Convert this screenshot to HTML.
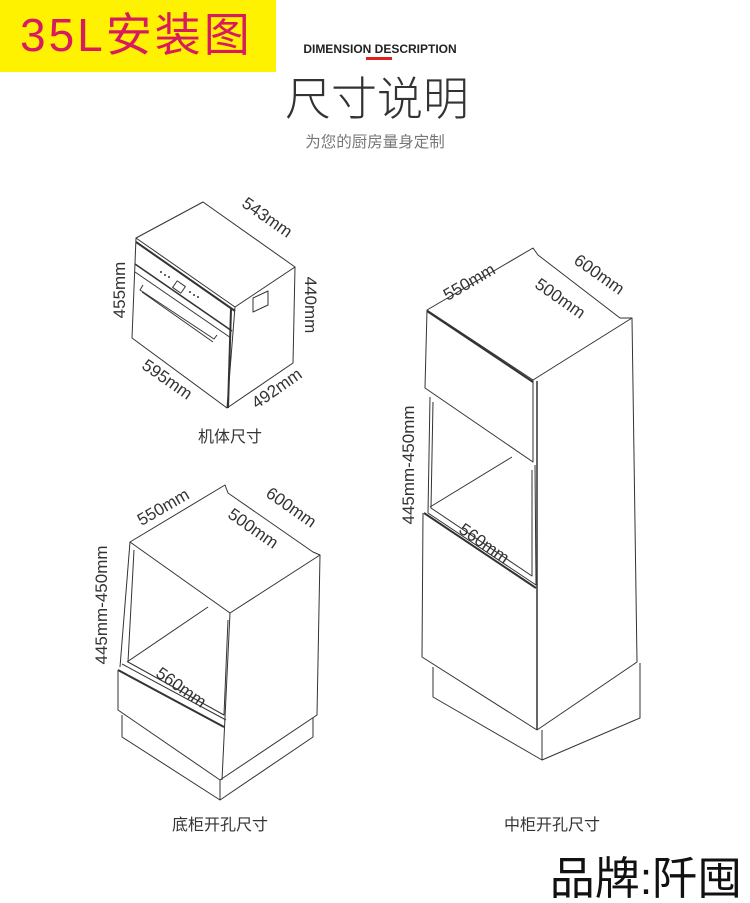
<!DOCTYPE html>
<html><head><meta charset="utf-8"><style>
html,body{margin:0;padding:0;background:#fff;}
body{width:750px;height:903px;position:relative;overflow:hidden;font-family:"Liberation Sans","Noto Sans CJK SC",sans-serif;}
.yb{position:absolute;left:0;top:0;width:276px;height:72px;background:#fff200;}
.yt{position:absolute;left:20px;top:8px;font-size:46px;color:#d81b60;font-family:"Liberation Sans","Noto Sans CJK SC",sans-serif;letter-spacing:3px;line-height:54px;white-space:nowrap;}
</style></head><body>
<div class="yb"></div>
<div class="yt">35L安装图</div>
<svg width="750" height="903" style="position:absolute;left:0;top:0" xmlns="http://www.w3.org/2000/svg">
<g font-family="Liberation Sans, Noto Sans CJK SC, sans-serif">
<text x="380" y="53" text-anchor="middle" font-size="12" font-weight="bold" fill="#222">DIMENSION DESCRIPTION</text>
<rect x="366" y="57" width="26" height="3" fill="#e02020"/>
<text x="377" y="115" text-anchor="middle" font-size="46" fill="#333" font-weight="300">尺寸说明</text>
<text x="375" y="147" text-anchor="middle" font-size="15.5" fill="#777">为您的厨房量身定制</text>
<text x="646" y="894" text-anchor="middle" font-size="45" fill="#111">品牌:阡囤</text>
</g>
<g fill="none" stroke="#333" stroke-width="1" stroke-linejoin="round">
<!-- oven -->
<polygon points="136,238 203,202 295,267 235,307"/>
<polyline points="136,238 132,338 227,408 235,307"/>
<polyline points="227,408 293,363 295,267"/>
<line x1="136" y1="242" x2="235" y2="311" stroke-width="2"/>
<line x1="135" y1="264" x2="232" y2="331" stroke-width="1.6"/>
<line x1="135" y1="272" x2="231" y2="338"/>
<polyline points="143,285 140,290 214,339 217,335"/>
<line x1="142" y1="292" x2="213" y2="342"/>
<rect x="174" y="283" width="10" height="8" transform="rotate(35 179 287)"/>
<line x1="231" y1="309" x2="228" y2="408" stroke-width="2"/>
<polygon points="253,298 268,291 268,305 253,312"/>
<g fill="#333" stroke="none"><circle cx="161" cy="272" r="1"/><circle cx="165" cy="275" r="1"/><circle cx="169" cy="277" r="1"/><circle cx="190" cy="292" r="1"/><circle cx="194" cy="295" r="1"/><circle cx="198" cy="297" r="1"/></g>
<!-- bottom cabinet -->
<polygon points="130,542 225,485 228,493 313,552 320,555 230,613"/>
<polyline points="130,542 120,667"/>
<line x1="230" y1="613" x2="222" y2="780"/>
<polyline points="320,555 317,715 220,780 118,710 118,670"/>
<polyline points="134,550 128,662 224,715 228,620"/>
<line x1="208" y1="607" x2="127" y2="662"/>
<line x1="118" y1="670" x2="224" y2="727" stroke-width="2"/>
<line x1="122" y1="664" x2="226" y2="720"/>
<polyline points="122,715 122,737 220,800 313,737 313,718"/>
<line x1="220" y1="780" x2="220" y2="800"/>
<!-- tall cabinet -->
<polygon points="427,310 533,248 538,255 620,318 632,318 533,380"/>
<line x1="427" y1="311" x2="533" y2="382" stroke-width="2"/>
<polyline points="427,310 425,388 533,462 533,380"/>
<line x1="537" y1="381" x2="537" y2="730" stroke-width="1.5"/>
<polyline points="430,397 428,513 536,585 535,465"/>
<polyline points="433,402 431,508 532,576 532,470"/>
<line x1="512" y1="457" x2="430" y2="507"/>
<line x1="424" y1="513" x2="536" y2="588" stroke-width="2"/>
<polyline points="423,513 422,657 537,730"/>
<polyline points="632,318 637,662 537,730"/>
<polyline points="433,667 433,697 542,760 640,718 640,663"/>
<line x1="542" y1="730" x2="542" y2="760"/>
</g>
<g font-family="Liberation Sans, sans-serif" font-size="17" fill="#333">
<text transform="translate(264,222) rotate(35)" text-anchor="middle">543mm</text>
<text transform="translate(125,290) rotate(-90)" text-anchor="middle">455mm</text>
<text transform="translate(305,305) rotate(90)" text-anchor="middle">440mm</text>
<text transform="translate(164,384) rotate(35)" text-anchor="middle">595mm</text>
<text transform="translate(280,393) rotate(-35)" text-anchor="middle">492mm</text>
<text x="230" y="442" text-anchor="middle" font-size="16" font-family="Liberation Sans, Noto Sans CJK SC, sans-serif">机体尺寸</text>
<text transform="translate(166,512) rotate(-30)" text-anchor="middle">550mm</text>
<text transform="translate(288,512) rotate(35)" text-anchor="middle">600mm</text>
<text transform="translate(250,533) rotate(35)" text-anchor="middle">500mm</text>
<text transform="translate(107,605) rotate(-90)" text-anchor="middle">445mm-450mm</text>
<text transform="translate(178,692) rotate(35)" text-anchor="middle">560mm</text>
<text x="220" y="830" text-anchor="middle" font-size="16" font-family="Liberation Sans, Noto Sans CJK SC, sans-serif">底柜开孔尺寸</text>
<text transform="translate(472,287) rotate(-30)" text-anchor="middle">550mm</text>
<text transform="translate(596,279) rotate(35)" text-anchor="middle">600mm</text>
<text transform="translate(557,303) rotate(35)" text-anchor="middle">500mm</text>
<text transform="translate(414,465) rotate(-90)" text-anchor="middle">445mm-450mm</text>
<text transform="translate(481,548) rotate(35)" text-anchor="middle">560mm</text>
<text x="552" y="830" text-anchor="middle" font-size="16" font-family="Liberation Sans, Noto Sans CJK SC, sans-serif">中柜开孔尺寸</text>
</g>
</svg>
</body></html>
